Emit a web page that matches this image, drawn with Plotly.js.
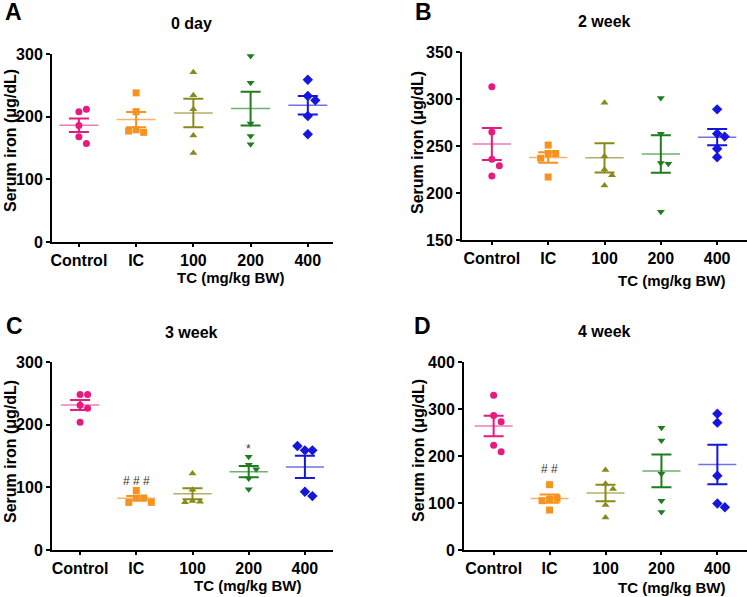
<!DOCTYPE html>
<html>
<head>
<meta charset="utf-8">
<script src="https://cdn.plot.ly/plotly-3.0.1.min.js"></script>
<style>
  html, body { margin: 0; padding: 0; background: #fff; }
  #chart { width: 747px; height: 597px; }
</style>
</head>
<body>
<div id="chart"></div>
<script>
// groups and look
const groups = ['Control', 'IC', '100', '200', '400'];
const colors = ['#E8197F', '#F7921E', '#8A8A1C', '#1E7D1E', '#1616DC'];
const meanColors = ['#F07AB4', '#F9B36A', '#B0B06A', '#6FAF6F', '#7070EC'];
const symbols = ['circle', 'square', 'triangle-up', 'triangle-down', 'diamond'];

// serum iron (µg/dL), one list per group
const day0 = [
    [208, 212, 186, 168, 157],
    [238, 208, 179, 175, 177],
    [271, 234, 212, 170, 142],
    [297, 254, 189, 169, 156],
    [259, 233, 226, 201, 172]
];
const week2 = [
    [313, 265, 236, 229, 218],
    [251, 242, 242, 237, 217],
    [296, 239, 225, 219, 208],
    [301, 263, 232, 231, 180],
    [289, 263, 260, 247, 238]
];
const week3 = [
    [248, 248, 231, 226, 204],
    [95, 83, 83, 76, 76],
    [122, 96, 78, 77, 76],
    [149, 136, 129, 114, 97],
    [159, 159, 166, 93, 86]
];
const week4 = [
    [329, 286, 273, 223, 209],
    [139, 108, 110, 105, 85],
    [170, 141, 130, 96, 69],
    [260, 233, 162, 105, 81],
    [290, 271, 158, 99, 91]
];

const panels = [
    { data: day0, title: '0 day', letter: 'A', yrange: [0, 300], ytick: [0, 100, 200, 300],
      xd: [52, 333], yd: [54, 242], xr: [-0.47, 4.44],
      titlePos: [191, 23], letterPos: [13, 12], yTitlePos: [10, 141], xTitlePos: [230, 277] },
    { data: week2, title: '2 week', letter: 'B', yrange: [150, 350], ytick: [150, 200, 250, 300, 350],
      xd: [462, 747], yd: [52, 240], xr: [-0.53, 4.53],
      titlePos: [604, 21], letterPos: [423, 12], yTitlePos: [417, 142], xTitlePos: [671, 280] },
    { data: week3, title: '3 week', letter: 'C', yrange: [0, 300], ytick: [0, 100, 200, 300],
      xd: [52, 333], yd: [362, 550], xr: [-0.5, 4.5],
      titlePos: [192, 332], letterPos: [14, 326], yTitlePos: [10, 452], xTitlePos: [247, 585] },
    { data: week4, title: '4 week', letter: 'D', yrange: [0, 400], ytick: [0, 100, 200, 300, 400],
      xd: [464, 747], yd: [362, 550], xr: [-0.53, 4.53],
      titlePos: [604, 331], letterPos: [422, 326], yTitlePos: [418, 451], xTitlePos: [671, 587] }
];

// significance marks: panel index, group index, label, value
const marks = [
    [2, 1, '# # #', 110],
    [2, 3, '*', 161],
    [3, 1, '# #', 172]
];

const W = 747, H = 597;
const FONT = 'Liberation Sans, Arial, sans-serif';

function mean(a) { return a.reduce((s, v) => s + v, 0) / a.length; }
function sem(a) {
    const m = mean(a);
    const sd = Math.sqrt(a.reduce((s, v) => s + (v - m) ** 2, 0) / (a.length - 1));
    return sd / Math.sqrt(a.length);
}

// simple beeswarm so close points sit side by side
function swarm(vals, pxPerUnit) {
    const placed = [];
    return vals.map(v => {
        const y = v * pxPerUnit;
        for (const k of [0, 1, -1, 2, -2]) {
            if (!placed.some(p => p.k === k && Math.abs(p.y - y) < 7)) {
                placed.push({ k, y });
                return k;
            }
        }
        return 0;
    });
}

const traces = [];
const layout = {
    width: W, height: H,
    margin: { t: 0, b: 0, l: 0, r: 0 },
    paper_bgcolor: '#fff', plot_bgcolor: '#fff',
    showlegend: false,
    font: { family: FONT, color: '#000' },
    annotations: []
};

function paperAnno(text, pos, size, extra) {
    return Object.assign({
        text, xref: 'paper', yref: 'paper',
        x: pos[0] / W, y: 1 - pos[1] / H,
        xanchor: 'center', yanchor: 'middle', showarrow: false,
        font: { family: FONT, size, weight: 'bold', color: '#000' }
    }, extra || {});
}

panels.forEach((p, pi) => {
    const n = pi === 0 ? '' : String(pi + 1);
    const xa = 'x' + n, ya = 'y' + n;
    const pxPerUnit = (p.yd[1] - p.yd[0]) / (p.yrange[1] - p.yrange[0]);
    const catPx = (p.xd[1] - p.xd[0]) / (p.xr[1] - p.xr[0]);
    const step = 7.5 / catPx;

    p.data.forEach((vals, gi) => {
        const offs = swarm(vals, pxPerUnit);
        const m = mean(vals), e = sem(vals);

        // mean line
        traces.push({
            x: [gi - 0.34, gi + 0.34], y: [m, m], xaxis: xa, yaxis: ya,
            mode: 'lines', line: { color: meanColors[gi], width: 1.5 }, hoverinfo: 'skip'
        });
        // SEM bar
        traces.push({
            x: [gi], y: [m], xaxis: xa, yaxis: ya, mode: 'markers',
            marker: { size: 0.1, color: 'rgba(0,0,0,0)' },
            error_y: { type: 'data', array: [e], visible: true, color: colors[gi], thickness: 2, width: 10 }
        });
        // points
        traces.push({
            x: offs.map(k => gi + k * step), y: vals, xaxis: xa, yaxis: ya,
            mode: 'markers',
            marker: { symbol: symbols[gi], color: colors[gi], size: gi === 4 ? 8 : 7, line: { width: 0 } }
        });
    });

    const axisCommon = {
        showgrid: false, zeroline: false, showline: true, linecolor: '#000', linewidth: 2,
        ticks: 'outside', ticklen: 4, tickwidth: 2, tickcolor: '#000',
        tickfont: { family: FONT, size: 16, weight: 'bold', color: '#000' }
    };
    layout['xaxis' + n] = Object.assign({}, axisCommon, {
        domain: [p.xd[0] / W, p.xd[1] / W], anchor: ya,
        range: p.xr, tickvals: [0, 1, 2, 3, 4], ticktext: groups, ticklen: 3
    });
    layout['yaxis' + n] = Object.assign({}, axisCommon, {
        domain: [1 - p.yd[1] / H, 1 - p.yd[0] / H], anchor: xa,
        range: p.yrange, tickvals: p.ytick
    });

    layout.annotations.push(paperAnno(p.title, p.titlePos, 16));
    layout.annotations.push(paperAnno(p.letter, p.letterPos, 23));
    layout.annotations.push(paperAnno('Serum iron (μg/dL)', p.yTitlePos, 16, { textangle: -90 }));
    layout.annotations.push(paperAnno('TC (mg/kg BW)', p.xTitlePos, 15));
});

marks.forEach(([pi, gi, label, v]) => {
    const n = pi === 0 ? '' : String(pi + 1);
    layout.annotations.push({
        text: label, xref: 'x' + n, yref: 'y' + n, x: gi, y: v,
        showarrow: false, xanchor: 'center', yanchor: 'middle',
        font: { family: FONT, size: 12, color: '#333' }
    });
});

Plotly.newPlot('chart', traces, layout, { staticPlot: true });
</script>
</body>
</html>
